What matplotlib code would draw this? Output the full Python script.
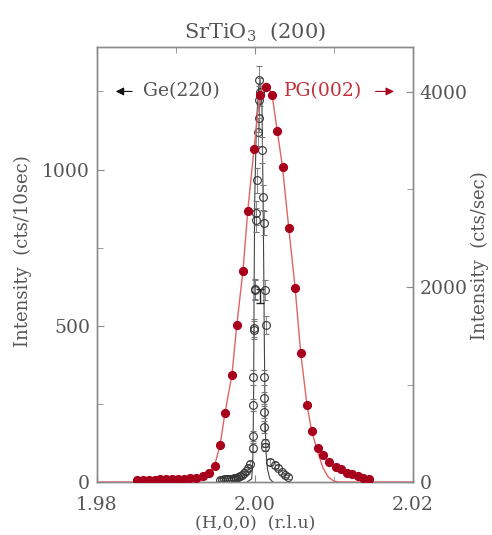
import matplotlib
matplotlib.use('Agg')
import matplotlib.pyplot as plt

plt.rcParams['font.family'] = 'DejaVu Serif'
plt.rcParams['mathtext.fontset'] = 'dejavuserif'

# Ge(220) analyser scan (left axis, cts/10sec)
ge_h = [1.99557, 1.99582, 1.99608, 1.99633, 1.99658, 1.99684, 1.99709, 1.99734,
        1.99759, 1.99785, 1.99810, 1.99835, 1.99861, 1.99886, 1.99911, 1.99937,
        1.99975, 1.99975, 1.99975, 1.99975, 1.99987, 1.99987, 2.00000, 2.00000,
        2.00013, 2.00013, 2.00025, 2.00038, 2.00050, 2.00050, 2.00050, 2.00063,
        2.00089, 2.00101, 2.00114, 2.00127, 2.00139, 2.00114, 2.00114, 2.00114,
        2.00114, 2.00127, 2.00127, 2.00190, 2.00253, 2.00291, 2.00342, 2.00380,
        2.00418]
ge_i = [8, 8, 9, 9, 10, 10, 11, 12,
        13, 15, 18, 22, 28, 35, 45, 58,
        110, 147, 246, 336, 486, 493, 618, 614,
        838, 861, 966, 1120, 1165, 1222, 1286, 1248,
        1062, 912, 829, 614, 502, 336, 269, 224,
        176, 125, 112, 64, 54, 45, 32, 22,
        16]
ge_err = [4, 4, 4, 4, 4, 4, 4, 4,
          5, 5, 6, 6, 7, 8, 9, 10,
          14, 16, 20, 24, 28, 28, 32, 32,
          38, 38, 40, 44, 44, 46, 46, 46,
          42, 40, 38, 32, 28, 24, 20, 20,
          18, 14, 14, 10, 9, 8, 7, 6,
          5]
ge_fit_h = [1.9990, 1.9996, 1.99975, 1.99985, 1.99990, 1.99998, 2.0002, 2.0005,
            2.0007, 2.0009, 2.0010, 2.00112, 2.0012, 2.00128, 2.0014, 2.0016,
            2.0019, 2.0023]
ge_fit_i = [0, 10, 80, 300, 600, 900, 1150, 1270,
            1285, 1200, 1000, 700, 450, 250, 100, 40,
            10, 0]

# PG(002) analyser scan (right axis, cts/sec)
pg_h = [1.98506, 1.98582, 1.98658, 1.98734, 1.98797, 1.98873, 1.98949, 1.99025,
        1.99101, 1.99177, 1.99253, 1.99342, 1.99418, 1.99494, 1.99557, 1.99620,
        1.99709, 1.99772, 1.99848, 1.99911, 1.99987, 2.00063, 2.00139, 2.00215,
        2.00278, 2.00354, 2.00430, 2.00506, 2.00582, 2.00658, 2.00722, 2.00797,
        2.00861, 2.00937, 2.01025, 2.01089, 2.01165, 2.01228, 2.01304, 2.01367,
        2.01443]
pg_i = [25, 25, 25, 25, 27, 28, 30, 32,
        35, 40, 45, 60, 90, 165, 380, 710,
        1100, 1610, 2160, 2780, 3415, 3970, 4050, 3970,
        3600, 3230, 2600, 1990, 1320, 790, 520, 350,
        275, 205, 155, 133, 95, 82, 62, 42,
        30]
pg_fit_h = [1.9800, 1.9925, 1.9935, 1.9942, 1.9949, 1.9956, 1.9962, 1.9971,
            1.9977, 1.9985, 1.9991, 1.9999, 2.0006, 2.0011, 2.0015, 2.0022,
            2.0028, 2.0035, 2.0043, 2.0051, 2.0058, 2.0066, 2.0072, 2.0080,
            2.0086, 2.0093, 2.0100, 2.0107, 2.0200]
pg_fit_i = [0, 0, 20, 80, 170, 380, 700, 1100,
            1600, 2170, 2780, 3420, 3950, 4080, 4090, 3960,
            3620, 3230, 2600, 1990, 1330, 790, 520, 300,
            150, 50, 10, 0, 0]

gray = '#555555'
spine = '#8a8a8a'
red_dot = '#a8001c'
red_line = '#e06464'
red_text = '#c0303c'

fig = plt.figure(figsize=(4.92, 5.35), dpi=100)
ax = fig.add_axes([0.197, 0.099, 0.642, 0.813])
ax2 = ax.twinx()

# black: Ge(220)
ax.plot(ge_fit_h, ge_fit_i, color='#444444', lw=0.8, zorder=2)
ax.errorbar(ge_h, ge_i, yerr=ge_err, fmt='o', mfc='none', mec='#333333',
            mew=0.8, ms=5.6, ecolor='#777777', elinewidth=0.6, capsize=2,
            capthick=0.6, zorder=3)
ax.errorbar([2.0006], [595], yerr=[22], fmt='none', ecolor='#222222',
            elinewidth=1.0, capsize=3, capthick=1.0)

# red: PG(002)
ax2.plot(pg_fit_h, pg_fit_i, color=red_line, lw=1.0, zorder=2)
ax2.plot(pg_h, pg_i, 'o', color=red_dot, ms=5.6, zorder=3)

ax.set_xlim(1.98, 2.02)
ax.set_ylim(0, 1392)
ax2.set_ylim(0, 4460)

ax.set_xticks([1.98, 2.00, 2.02])
ax.set_xticklabels(['1.98', '2.00', '2.02'])
ax.set_xticks([1.99, 2.01], minor=True)
ax.set_yticks([0, 500, 1000])
ax.set_yticks([250, 750, 1250], minor=True)
ax2.set_yticks([0, 2000, 4000])
ax2.set_yticks([1000, 3000], minor=True)

for a in (ax, ax2):
    for s in a.spines.values():
        s.set_color(spine)
        s.set_linewidth(1.0)
    a.tick_params(which='both', direction='in', color=spine, labelcolor=gray,
                  labelsize=13.5, top=True)
    a.tick_params(which='major', length=5)
    a.tick_params(which='minor', length=4)
ax.tick_params(axis='x', pad=10)
ax.tick_params(axis='y', pad=5)
ax2.tick_params(axis='y', pad=5)

ax.set_xlabel('(H,0,0)  (r.l.u)', color=gray, fontsize=12.5, labelpad=0)
ax.set_ylabel('Intensity  (cts/10sec)', color=gray, fontsize=13)
ax.yaxis.set_label_coords(-0.205, 0.53)
ax2.set_ylabel('Intensity  (cts/sec)', color=gray, fontsize=13)
ax2.yaxis.set_label_coords(1.185, 0.52)
ax.set_title('SrTiO$_3$  (200)', color=gray, fontsize=15, pad=7)

# analyser labels with arrows
ax.annotate('', xy=(1.98203, 1250), xytext=(1.98481, 1250),
            arrowprops=dict(arrowstyle='-|>', color='#111111', lw=0.8,
                            mutation_scale=12))
ax.text(1.98582, 1250, 'Ge(220)', color=gray, fontsize=13.5, va='center')
ax.text(2.01355, 1250, 'PG(002)', color=red_text, fontsize=13.5, va='center',
        ha='right')
ax.annotate('', xy=(2.01797, 1250), xytext=(2.01494, 1250),
            arrowprops=dict(arrowstyle='-|>', color=red_dot, lw=0.8,
                            mutation_scale=12))

fig.savefig('out.png', dpi=100)
